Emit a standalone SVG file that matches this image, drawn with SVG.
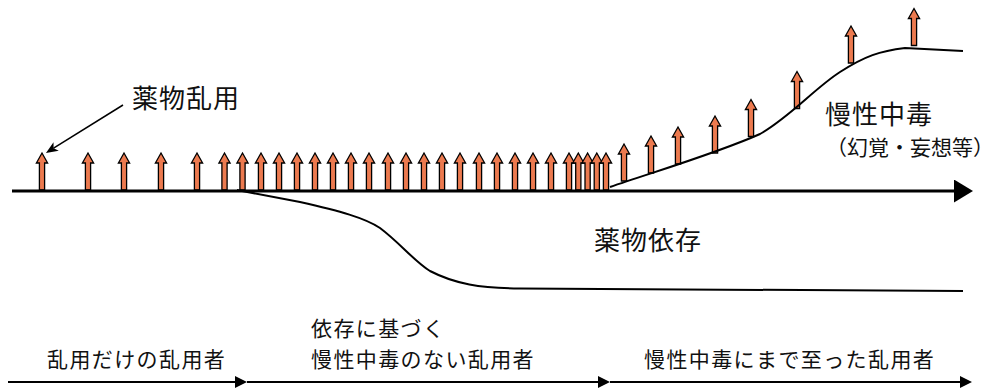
<svg xmlns="http://www.w3.org/2000/svg" xmlns:xlink="http://www.w3.org/1999/xlink" width="995" height="392" viewBox="0 0 995 392">
<style>
.t{font-family:"Noto Sans CJK JP","Noto Sans CJK SC",sans-serif;fill:#111;}
.big{font-size:26px;letter-spacing:1px;}
.mid{font-size:21px;}
.sm{font-size:21px;letter-spacing:1.4px;}
.ln{fill:none;stroke:#000;}
.up{fill:#EC7A4F;stroke:#000;stroke-width:1.3;stroke-linejoin:miter;}
</style>
<defs>
<path id="ua" class="up" d="M-2.6,0 V-27 H-5.6 L0,-37 L5.6,-27 H2.6 V0 Z"/>
<marker id="axh" markerUnits="userSpaceOnUse" markerWidth="20" markerHeight="24" viewBox="0 0 20 24" refX="1" refY="11.5" orient="auto"><path d="M0,0 L19,11.5 L0,23 Z" fill="#000"/></marker>
<marker id="tri" markerUnits="userSpaceOnUse" markerWidth="13" markerHeight="13" viewBox="0 0 13 13" refX="1" refY="6" orient="auto"><path d="M0,0 L12,6 L0,12 Z" fill="#000"/></marker>
<marker id="stl" markerUnits="userSpaceOnUse" markerWidth="14" markerHeight="12" viewBox="0 -6 14 12" refX="3" refY="0" orient="auto"><path d="M0,-5 L12,0 L0,5 L3,0 Z" fill="#000"/></marker>
</defs>

<g id="use-arrows">
<use xlink:href="#ua" x="42" y="190"/>
<use xlink:href="#ua" x="88" y="190"/>
<use xlink:href="#ua" x="124" y="190"/>
<use xlink:href="#ua" x="161" y="190"/>
<use xlink:href="#ua" x="197" y="190"/>
<use xlink:href="#ua" x="224.5" y="190"/>
<use xlink:href="#ua" x="242.5" y="190"/>
<use xlink:href="#ua" x="261" y="190"/>
<use xlink:href="#ua" x="279" y="190"/>
<use xlink:href="#ua" x="297" y="190"/>
<use xlink:href="#ua" x="315" y="190"/>
<use xlink:href="#ua" x="333" y="190"/>
<use xlink:href="#ua" x="351" y="190"/>
<use xlink:href="#ua" x="369" y="190"/>
<use xlink:href="#ua" x="388" y="190"/>
<use xlink:href="#ua" x="406" y="190"/>
<use xlink:href="#ua" x="424" y="190"/>
<use xlink:href="#ua" x="442" y="190"/>
<use xlink:href="#ua" x="460" y="190"/>
<use xlink:href="#ua" x="479" y="190"/>
<use xlink:href="#ua" x="497" y="190"/>
<use xlink:href="#ua" x="515" y="190"/>
<use xlink:href="#ua" x="533" y="190"/>
<use xlink:href="#ua" x="551" y="190"/>
<use xlink:href="#ua" x="569" y="190"/>
<use xlink:href="#ua" x="578.3" y="190"/>
<use xlink:href="#ua" x="587.6" y="190"/>
<use xlink:href="#ua" x="596.8" y="190"/>
<use xlink:href="#ua" x="606" y="190"/>
<use xlink:href="#ua" x="624" y="181"/>
<use xlink:href="#ua" x="651" y="173"/>
<use xlink:href="#ua" x="678" y="164"/>
<use xlink:href="#ua" x="715" y="153"/>
<use xlink:href="#ua" x="751" y="136.5"/>
<use xlink:href="#ua" x="797" y="108.5"/>
<use xlink:href="#ua" x="851" y="63"/>
<use xlink:href="#ua" x="914" y="45.5"/>
</g>

<g id="connectors">
<line class="ln" x1="12" y1="191" x2="955" y2="191" stroke-width="3" marker-end="url(#axh)"/>
<path class="ln" stroke-width="2" d="M610,187 C660,170 720,152 760,134 C790,117 815,88 840,72 C865,56 880,51 905,48 L963,51"/>
<path class="ln" stroke-width="2" d="M237,190 L300,202 C340,211 365,218 380,228 C400,243 415,262 430,271 C455,284 480,288 520,288.5 L963,291"/>
<line class="ln" x1="123" y1="105" x2="53.6" y2="148.2" stroke-width="1.5" marker-end="url(#stl)"/>
<line class="ln" x1="8" y1="382" x2="236" y2="382" stroke-width="2" marker-end="url(#tri)"/>
<line class="ln" x1="247" y1="382" x2="599" y2="382" stroke-width="2" marker-end="url(#tri)"/>
<line class="ln" x1="610" y1="382" x2="961" y2="382" stroke-width="2" marker-end="url(#tri)"/>
</g>

<g id="label-abuse"><text class="t big" x="132" y="108">薬物乱用</text></g>
<g id="label-chronic"><text class="t big" x="825" y="124">慢性中毒</text>
<text class="t mid" x="826" y="155">（幻覚・妄想等）</text></g>
<g id="label-dependence"><text class="t big" x="594" y="250">薬物依存</text></g>
<g id="stage-1"><text class="t sm" x="47" y="367">乱用だけの乱用者</text></g>
<g id="stage-2"><text class="t sm" x="311" y="336">依存に基づく</text>
<text class="t sm" x="311" y="367">慢性中毒のない乱用者</text></g>
<g id="stage-3"><text class="t sm" x="644" y="367">慢性中毒にまで至った乱用者</text></g>
</svg>
